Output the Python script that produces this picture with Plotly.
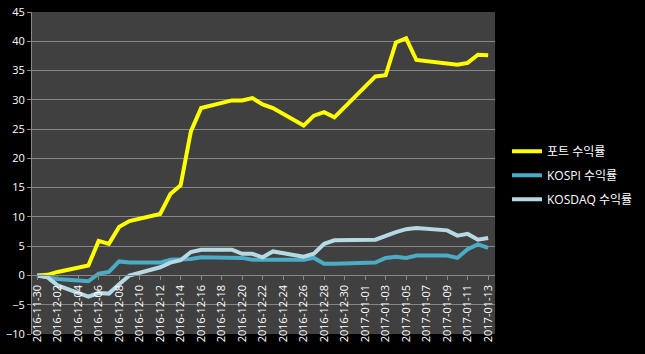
import plotly.graph_objects as go

dates = ["2016-11-30", "2016-12-01", "2016-12-02", "2016-12-05", "2016-12-06", "2016-12-07",
         "2016-12-08", "2016-12-09", "2016-12-12", "2016-12-13", "2016-12-14", "2016-12-15",
         "2016-12-16", "2016-12-19", "2016-12-20", "2016-12-21", "2016-12-22", "2016-12-23",
         "2016-12-26", "2016-12-27", "2016-12-28", "2016-12-29", "2017-01-02", "2017-01-03",
         "2017-01-04", "2017-01-05", "2017-01-06", "2017-01-09", "2017-01-10", "2017-01-11",
         "2017-01-12", "2017-01-13"]

port = [0.0, 0.1, 0.6, 1.7, 5.9, 5.4, 8.3, 9.3, 10.5, 13.9, 15.4, 24.6,
        28.6, 29.9, 29.9, 30.3, 29.2, 28.6, 25.6, 27.3, 27.9, 27.0, 34.0, 34.2,
        39.8, 40.5, 36.8, 36.2, 36.0, 36.3, 37.7, 37.6]

kospi = [0.0, -0.3, -0.6, -1.0, 0.3, 0.6, 2.4, 2.2, 2.2, 2.7, 2.8, 2.8,
         3.1, 2.9, 3.0, 2.7, 2.7, 2.8, 2.7, 3.0, 2.0, 2.0, 2.2, 3.0,
         3.2, 3.0, 3.4, 3.4, 3.0, 4.5, 5.3, 4.7]

kosdaq = [0.0, -0.3, -1.7, -3.6, -3.0, -3.1, -1.5, 0.0, 1.4, 2.2, 2.6, 4.0,
          4.4, 4.4, 3.7, 3.7, 3.1, 4.1, 3.2, 3.7, 5.4, 6.0, 6.1, 6.8,
          7.4, 7.9, 8.1, 7.7, 6.8, 7.1, 6.1, 6.4]

names = ["포트 수익률", "KOSPI 수익률", "KOSDAQ 수익률"]
colors = ["#FFFF00", "#4BACC6", "#B7D9E4"]
yticks = [-10, -5, 0, 5, 10, 15, 20, 25, 30, 35, 40, 45]

FONT = "Open Sans, Noto Sans CJK KR, sans-serif"

fig = go.Figure()
for i, (vals, nm, col) in enumerate(zip([port, kospi, kosdaq], names, colors)):
    fig.add_trace(go.Scatter(x=dates, y=vals, mode="lines", name=nm,
                             legendgroup=f"g{i}",
                             line=dict(color=col, width=4)))

fig.update_layout(
    width=645, height=354,
    margin=dict(l=32, r=150, t=12, b=20),
    paper_bgcolor="#000000",
    plot_bgcolor="#404040",
    font=dict(family=FONT, color="#FFFFFF", size=11),
    showlegend=True,
    legend=dict(xref="container", yref="container", x=0.786, y=0.505,
                xanchor="left", yanchor="middle",
                bgcolor="rgba(0,0,0,0)", font=dict(size=12, color="#FFFFFF"),
                tracegroupgap=5, itemwidth=30),
    xaxis=dict(type="date", range=["2016-11-29 12:00", "2017-01-13 16:00"],
               tick0="2016-11-30", dtick=2 * 86400000, tickformat="%Y-%m-%d",
               tickangle=-90, showgrid=False, zeroline=False,
               showline=True, linecolor="#888888", linewidth=1,
               ticks="outside", ticklen=4, tickcolor="#888888",
               anchor="free", position=10 / 55, automargin=False,
               tickfont=dict(size=11, color="#FFFFFF")),
    yaxis=dict(range=[-10, 45], tickvals=yticks, showgrid=True,
               gridcolor="#858585", gridwidth=1, zeroline=False,
               showline=True, linecolor="#888888", linewidth=1,
               ticks="outside", ticklen=4, tickcolor="#888888",
               automargin=False, tickfont=dict(size=11, color="#FFFFFF")),
)

fig.write_html("out.html")
